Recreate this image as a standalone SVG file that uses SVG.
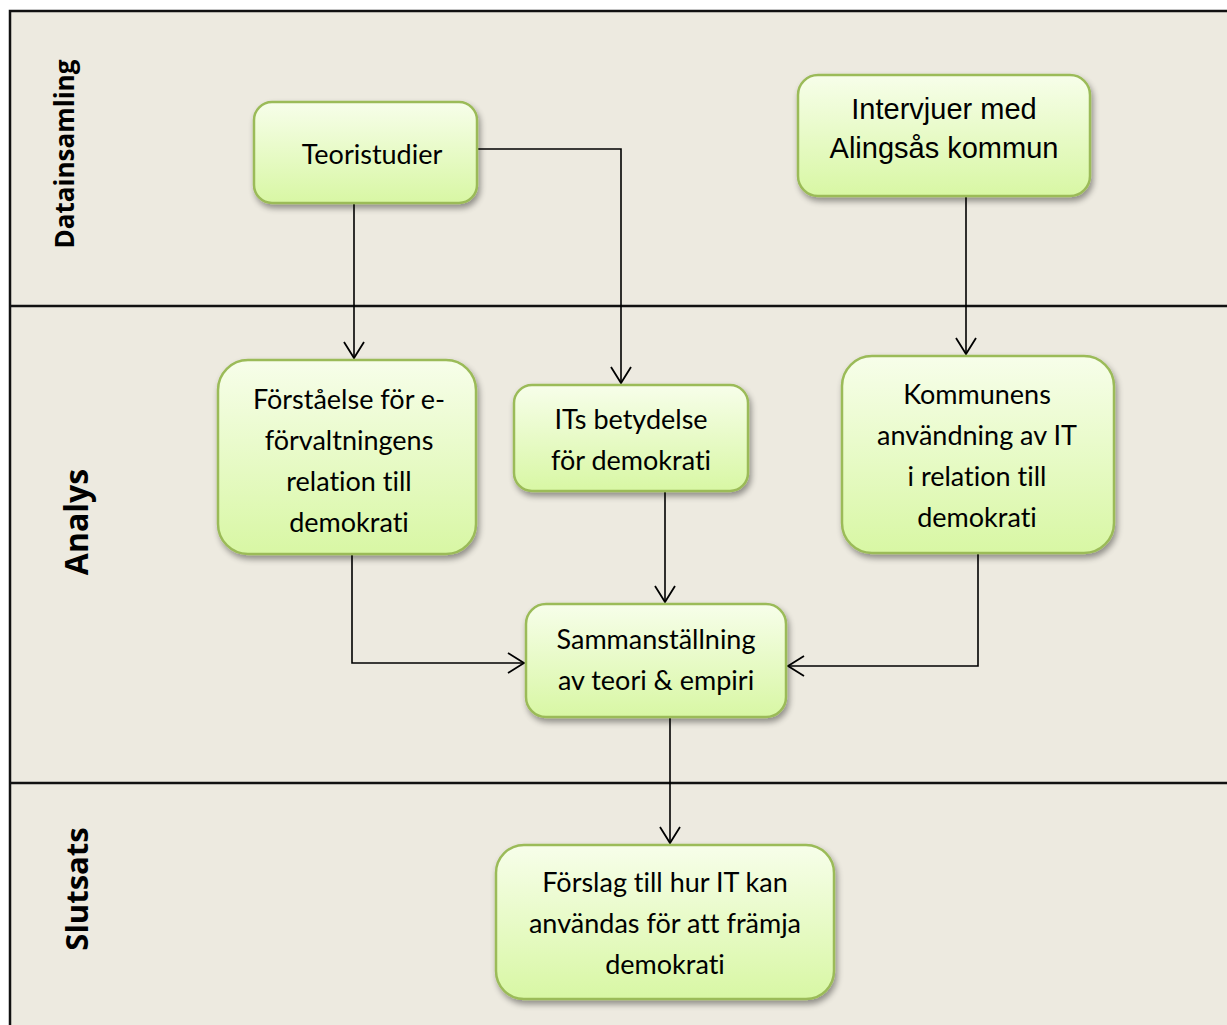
<svg xmlns="http://www.w3.org/2000/svg" width="1227" height="1025" viewBox="0 0 1227 1025">
<style>
.lane{fill:#EDEAE0;stroke:#111;stroke-width:2.5}
.div{stroke:#111;stroke-width:2.5}
.lbl{font-family:"Open Sans","Lato","Liberation Sans",sans-serif;font-weight:bold;fill:#000;text-anchor:middle}
.box{fill:url(#g);stroke:#9BBB59;stroke-width:2.5;filter:url(#sh)}
.t{font-family:"Lato","Open Sans","Liberation Sans",sans-serif;font-size:27px;fill:#000;text-anchor:middle;font-variant-ligatures:none}
.a{font-family:"Liberation Sans",Arial,sans-serif;font-size:29px;fill:#000;text-anchor:middle}
.c{fill:none;stroke:#000;stroke-width:1.6}
</style>
<defs>
<linearGradient id="g" x1="0" y1="0" x2="0" y2="1">
<stop offset="0" stop-color="#F7FEEA"/>
<stop offset="1" stop-color="#D8F7A4"/>
</linearGradient>
<filter id="sh" x="-10%" y="-10%" width="130%" height="140%">
<feGaussianBlur in="SourceAlpha" stdDeviation="3"/>
<feOffset dx="2" dy="4" result="o"/>
<feComponentTransfer><feFuncA type="linear" slope="0.4"/></feComponentTransfer>
<feMerge><feMergeNode/><feMergeNode in="SourceGraphic"/></feMerge>
</filter>
<marker id="ar" markerUnits="userSpaceOnUse" markerWidth="24" markerHeight="24" viewBox="0 0 24 24" refX="20" refY="12" orient="auto">
<path d="M4,2 L20,12 L4,22" fill="none" stroke="#000" stroke-width="1.8"/>
</marker>
</defs>
<rect x="0" y="0" width="1227" height="1025" fill="#fff"/>
<rect class="lane" x="10" y="11" width="1230" height="1030"/>
<line class="div" x1="10" y1="306" x2="1227" y2="306"/>
<line class="div" x1="10" y1="783" x2="1227" y2="783"/>
<g id="lanes">
<text class="lbl" font-size="26" transform="translate(74,154) rotate(-90)">Datainsamling</text>
<text class="lbl" font-size="32" transform="translate(88,522) rotate(-90)">Analys</text>
<text class="lbl" font-size="31" transform="translate(88,889) rotate(-90)">Slutsats</text>
</g>
<g id="connectors">
<path class="c" d="M354,203 V358" marker-end="url(#ar)"/>
<path class="c" d="M477,149 H621 V383" marker-end="url(#ar)"/>
<path class="c" d="M966,196 V354" marker-end="url(#ar)"/>
<path class="c" d="M352,554 V663 H524" marker-end="url(#ar)"/>
<path class="c" d="M665,491 V602" marker-end="url(#ar)"/>
<path class="c" d="M978,553 V666 H788" marker-end="url(#ar)"/>
<path class="c" d="M670,717 V843" marker-end="url(#ar)"/>
</g>
<g id="n1"><rect class="box" x="254" y="102" width="223" height="101" rx="18"/><text class="t" x="372" y="164" font-size="26">Teoristudier</text></g>
<g id="n2"><rect class="box" x="798" y="75" width="292" height="121" rx="20"/><text class="a" x="944" y="119">Intervjuer med</text><text class="a" x="944" y="158">Alingsås kommun</text></g>
<g id="n3"><rect class="box" x="218" y="360" width="258" height="194" rx="30"/>
<text class="t" x="349" y="409">Förståelse för e-</text>
<text class="t" x="349" y="450">förvaltningens</text>
<text class="t" x="349" y="491">relation till</text>
<text class="t" x="349" y="532">demokrati</text></g>
<g id="n4"><rect class="box" x="514" y="385" width="234" height="106" rx="18"/>
<text class="t" x="631" y="429">ITs betydelse</text>
<text class="t" x="631" y="470">för demokrati</text></g>
<g id="n5"><rect class="box" x="842" y="356" width="272" height="197" rx="30"/>
<text class="t" x="977" y="404">Kommunens</text>
<text class="t" x="977" y="445">användning av IT</text>
<text class="t" x="977" y="486">i relation till</text>
<text class="t" x="977" y="527">demokrati</text></g>
<g id="n6"><rect class="box" x="526" y="604" width="260" height="113" rx="20"/>
<text class="t" x="656" y="649">Sammanställning</text>
<text class="t" x="656" y="690">av teori &amp; empiri</text></g>
<g id="n7"><rect class="box" x="496" y="845" width="338" height="154" rx="28"/>
<text class="t" x="665" y="892">Förslag till hur IT kan</text>
<text class="t" x="665" y="933">användas för att främja</text>
<text class="t" x="665" y="974">demokrati</text></g>
</svg>
